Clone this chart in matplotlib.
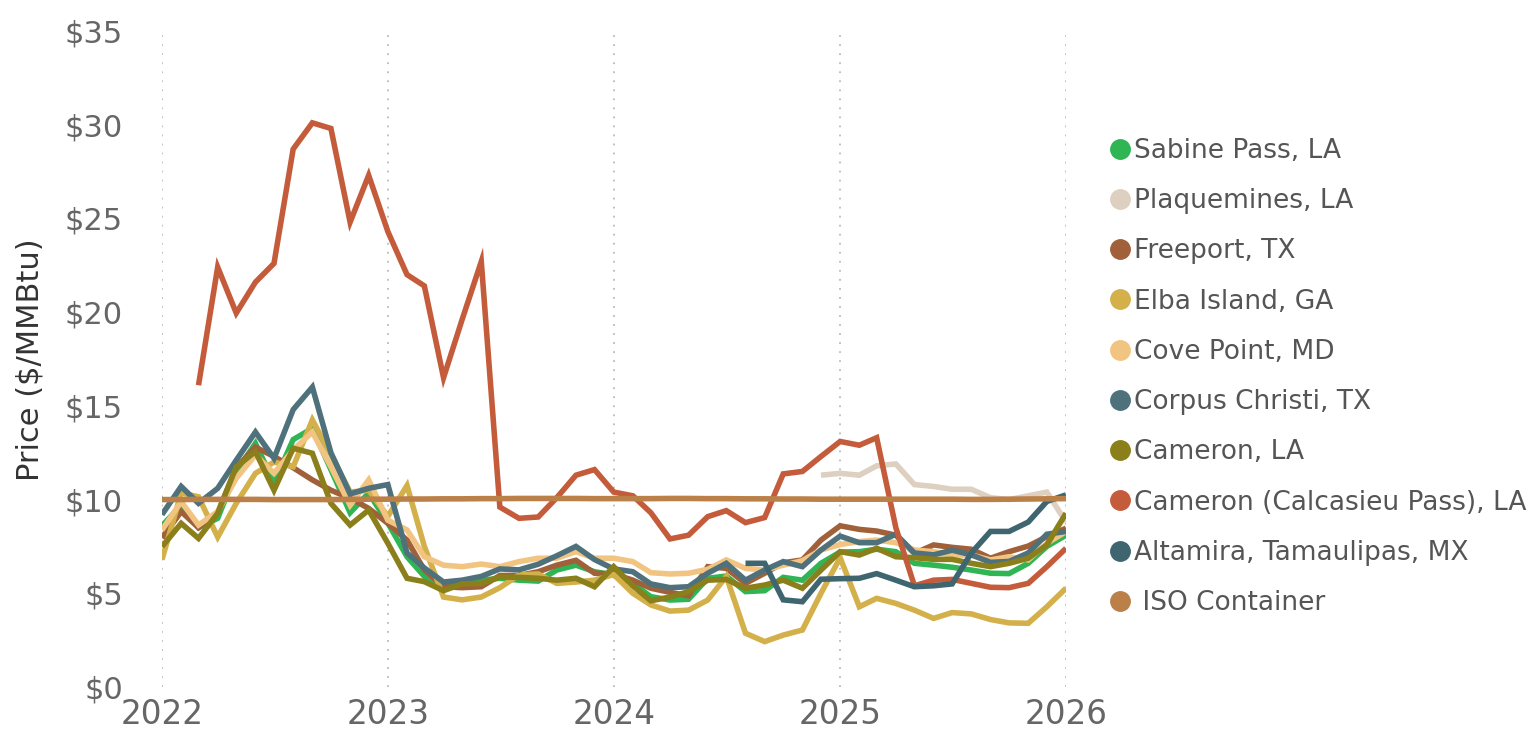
import numpy as np
import pandas as pd
import matplotlib
matplotlib.use("Agg")
import matplotlib.pyplot as plt
import matplotlib.dates as mdates
import matplotlib.ticker as ticker
from matplotlib.lines import Line2D

# monthly, Jan 2022 .. Jan 2026
months = pd.date_range("2022-01-01", periods=49, freq="MS")

sabine = [8.6, 9.7, 8.5, 9.0, 11.5, 13.0, 10.9, 13.2, 13.8,
          11.6, 9.3, 10.35, 8.75, 6.95, 5.9, 5.3, 5.6, 5.7,
          5.8, 5.7, 5.65, 6.24, 6.5, 6.15, 5.98, 5.53, 4.82, 4.64,
          4.68, 5.8, 5.92, 5.09, 5.14, 5.85, 5.7, 6.6,
          7.2, 7.22, 7.35, 7.22, 6.6, 6.5, 6.39, 6.24, 6.07,
          6.05, 6.6, 7.5, 8.1]
plaquemines = [None] * 35 + [11.3, 11.4, 11.3, 11.8, 11.9, 10.8, 10.7, 10.55,
                             10.55, 10.1, 10.0, 10.2, 10.4, 8.8]
freeport = [7.95, 9.36, 8.5, 9.3, 11.7, 12.8, 12.3, 11.7, 11.05,
            10.5, 10.07, 9.53, 8.73, 7.84, 6.24, 5.35, 5.3, 5.35,
            5.95, 5.95, 6.15, 6.5, 6.76, 6.07, 6.03, 5.7, 5.27, 5.05,
            4.86, 6.42, 6.33, 5.53, 6.07, 6.63, 6.78, 7.84,
            8.6, 8.41, 8.32, 8.1, 7.13, 7.58, 7.45, 7.35, 6.87,
            7.22, 7.52, 8.02, 8.47]
elba = [6.8, 10.35, 10.15, 8.0, 9.8, 11.4, 12.0, 11.75, 14.25,
        12.4, 10.4, 10.5, 9.1, 10.75, 7.5, 4.8, 4.65, 4.8,
        5.3, 5.98, 6.03, 5.53, 5.6, 5.7, 6.0, 5.0, 4.38, 4.05,
        4.1, 4.64, 5.9, 2.87, 2.42, 2.77, 3.04, 5.0,
        6.9, 4.28, 4.73, 4.46, 4.1, 3.66, 3.97, 3.9, 3.6,
        3.42, 3.4, 4.28, 5.27]
cove = [8.38, 9.89, 8.64, 9.36, 11.14, 12.38, 11.4, 12.65, 13.6,
        11.75, 9.7, 11.05, 8.9, 8.38, 6.95, 6.5, 6.42, 6.56,
        6.42, 6.69, 6.87, 6.87, 7.22, 6.87, 6.87, 6.69, 6.1, 6.03,
        6.07, 6.28, 6.78, 6.33, 6.24, 6.5, 6.74, 7.31,
        7.6, 7.76, 7.84, 7.7, 7.31, 7.22, 7.04, 7.04, 6.78,
        6.95, 6.78, 7.67, 8.29]
corpus = [9.2, 10.7, 9.8, 10.6, 12.1, 13.6, 12.2, 14.8, 16.0,
          12.5, 10.3, 10.6, 10.8, 7.15, 6.35, 5.6, 5.7, 5.9,
          6.3, 6.25, 6.55, 7.0, 7.5, 6.8, 6.3, 6.15, 5.5, 5.3,
          5.35, 6.07, 6.6, 5.7, 6.24, 6.69, 6.42, 7.31,
          8.05, 7.7, 7.7, 8.15, 7.15, 7.05, 7.3, 7.05, 6.65,
          6.7, 7.15, 8.15, 8.3]
cameron = [7.49, 8.73, 7.93, 9.27, 11.75, 12.56, 10.5, 12.74, 12.47,
           9.8, 8.64, 9.44, 7.67, 5.8, 5.62, 5.14, 5.5, 5.53,
           5.87, 5.85, 5.8, 5.7, 5.8, 5.35, 6.42, 5.4, 4.6, 4.8,
           5.09, 5.7, 5.74, 5.27, 5.44, 5.7, 5.27, 6.24,
           7.22, 7.04, 7.4, 6.95, 6.9, 6.81, 6.81, 6.6, 6.42,
           6.6, 6.87, 7.58, 9.27]
calcasieu = [None, None, 16.1, 22.4, 19.95, 21.6, 22.6, 28.7, 30.1,
             29.8, 24.8, 27.3, 24.3, 22.0, 21.4, 16.5, 19.6, 22.7,
             9.6, 9.0, 9.07, 10.1, 11.3, 11.6, 10.4, 10.2, 9.3, 7.9,
             8.1, 9.09, 9.41, 8.77, 9.04, 11.37, 11.5, 12.3,
             13.1, 12.9, 13.3, 8.5, 5.4, 5.7, 5.74, 5.53, 5.32,
             5.3, 5.53, 6.42, 7.4]
altamira = [None] * 31 + [6.6, 6.6, 4.65, 4.55, 5.75, 5.78, 5.8, 6.05, 5.7,
                          5.35, 5.4, 5.5, 7.15, 8.3, 8.3, 8.8, 9.9, 10.25]
iso = [10.0, 10.0, 10.01, 10.01, 10.01, 10.01, 10.0, 10.0, 10.0, 10.0, 10.01, 10.02,
       10.02, 10.03, 10.03, 10.04, 10.04, 10.05, 10.05, 10.06, 10.06, 10.06, 10.06, 10.05,
       10.05, 10.05, 10.05, 10.06, 10.06, 10.05, 10.05, 10.04, 10.04, 10.03, 10.03, 10.02,
       10.02, 10.02, 10.02, 10.02, 10.02, 10.02, 10.02, 10.01, 10.01, 10.02, 10.03, 10.04,
       10.05]

labels = ["Sabine Pass, LA", "Plaquemines, LA", "Freeport, TX", "Elba Island, GA",
          "Cove Point, MD", "Corpus Christi, TX", "Cameron, LA",
          "Cameron (Calcasieu Pass), LA", "Altamira, Tamaulipas, MX", " ISO Container"]
colors = ["#2fb554", "#ded0c0", "#a0613a", "#d4b04a", "#f2c482",
          "#4f717c", "#8a7f1a", "#c45c3c", "#3f6670", "#bb8048"]
series = [sabine, plaquemines, freeport, elba, cove, corpus, cameron,
          calcasieu, altamira, iso]


def main():
    plt.rcParams["font.family"] = "DejaVu Sans"
    fig = plt.figure(figsize=(15.38, 7.30), dpi=100)
    ax = fig.add_axes([162 / 1538, 43 / 730, (1066 - 162) / 1538, (687 - 31) / 730])

    for vals, col in zip(series, colors):
        y = np.array([np.nan if v is None else v for v in vals], dtype=float)
        ax.plot(months, y, color=col, lw=4.0, solid_joinstyle="miter",
                solid_capstyle="butt")

    ax.set_xlim(months[0], months[-1])
    ax.set_ylim(0, 35)
    ax.xaxis.set_major_locator(mdates.YearLocator())
    ax.xaxis.set_major_formatter(mdates.DateFormatter("%Y"))
    ax.yaxis.set_major_locator(ticker.MultipleLocator(5))
    ax.yaxis.set_major_formatter(ticker.FuncFormatter(lambda v, p: "$%d" % v))
    ax.grid(axis="x", color="#bbbbbb", linestyle=(0, (1, 4)), lw=1.3)
    ax.set_axisbelow(True)
    for s in ax.spines.values():
        s.set_visible(False)
    ax.tick_params(axis="both", length=0, labelcolor="#666666")
    ax.tick_params(axis="y", pad=28, labelsize=22)
    ax.tick_params(axis="x", pad=8, labelsize=23.5)

    fig.text(30 / 1538, 0.507, "Price ($/MMBtu)", rotation=90, ha="center",
             va="center", fontsize=22, color="#333333")

    handles = [Line2D([], [], ls="", marker="o", ms=14, color=c) for c in colors]
    fig.legend(handles, labels, loc="center left",
               bbox_to_anchor=(1110 / 1538, 1 - 377 / 730), frameon=False,
               fontsize=19, labelcolor="#555555", handlelength=0.75,
               handletextpad=0.15, labelspacing=0.92, borderpad=0, borderaxespad=0)

    fig.savefig("out.png", dpi=100)


if __name__ == "__main__":
    main()
